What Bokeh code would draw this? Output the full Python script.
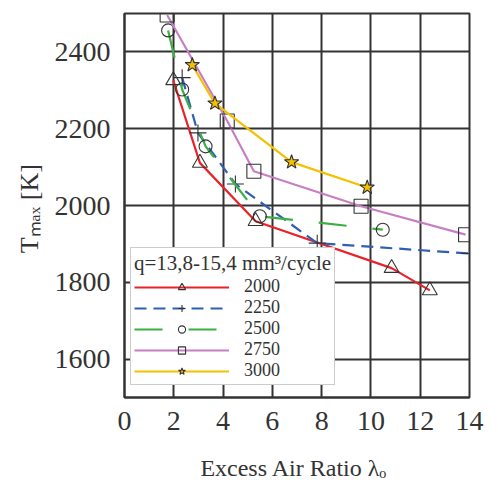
from bokeh.plotting import figure
from bokeh.models import Range1d, FixedTicker, Legend, LegendItem
from bokeh.embed import file_html
from bokeh.resources import INLINE

# ---- data ----
series_names = ["2000", "2250", "2500", "2750", "3000"]
lam_2000 = [1.98, 3.06, 5.32, 10.84, 12.39]
T_2000 = [2326, 2111, 1959, 1837, 1779]
lam_2250 = [2.34, 2.98, 4.50, 7.82, 14.0]
T_2250 = [2333, 2189, 2056, 1902, 1875]
lam_2500 = [1.77, 2.34, 3.29, 5.49, 10.48]
T_2500 = [2456, 2302, 2154, 1972, 1937]
lam_2750 = [1.73, 4.17, 5.25, 9.60, 13.84]
T_2750 = [2496, 2220, 2089, 1998, 1924]
lam_3000 = [2.75, 3.67, 6.78, 9.85]
T_3000 = [2366, 2266, 2113, 2047]
x_ticks = [0, 2, 4, 6, 8, 10, 12, 14]
y_ticks = [1600, 1800, 2000, 2200, 2400]
legend_title = "q=13,8-15,4 mm\u00b3/cycle"
x_title = "Excess Air Ratio  \u03bb\u2092"
y_title = "T\u2098\u2090\u2093  [K]"

FONT = "Liberation Serif"
GRID = "#333333"

p = figure(width=498, height=487, output_backend="svg", toolbar_location=None,
           x_range=Range1d(0, 14), y_range=Range1d(1500, 2500),
           min_border_left=124, min_border_right=29, min_border_top=13, min_border_bottom=90)
p.background_fill_color = "white"
p.border_fill_color = "white"
p.outline_line_color = GRID
p.outline_line_width = 2
p.outline_line_alpha = 1

for ax in (p.xaxis[0], p.yaxis[0]):
    ax.major_label_text_font = FONT
    ax.major_label_text_font_size = "28px"
    ax.major_label_text_color = "#333333"
    ax.major_tick_in = 0
    ax.major_tick_out = 0
    ax.minor_tick_in = 0
    ax.minor_tick_out = 0
    ax.axis_line_color = GRID
    ax.axis_line_width = 2
    ax.axis_label_text_font = FONT
    ax.axis_label_text_font_style = "normal"
    ax.axis_label_text_color = "#333333"
p.xaxis[0].ticker = FixedTicker(ticks=x_ticks)
p.yaxis[0].ticker = FixedTicker(ticks=y_ticks)
p.xaxis[0].major_label_standoff = 14
p.yaxis[0].major_label_standoff = 14
p.xaxis[0].axis_label = x_title
p.yaxis[0].axis_label = y_title
p.xaxis[0].axis_label_text_font_size = "24px"
p.yaxis[0].axis_label_text_font_size = "26px"
p.xaxis[0].axis_label_standoff = 22
p.yaxis[0].axis_label_standoff = 8

p.xgrid[0].ticker = FixedTicker(ticks=x_ticks)
p.ygrid[0].ticker = FixedTicker(ticks=y_ticks)
for g in (p.xgrid[0], p.ygrid[0]):
    g.grid_line_color = GRID
    g.grid_line_width = 2
    g.grid_line_alpha = 1

styles = [
    (lam_2000, T_2000, "#e8232a", "solid", "triangle", 15, None),
    (lam_2250, T_2250, "#2f5fb3", "12 7", "cross", 17, None),
    (lam_2500, T_2500, "#3cb043", "28 26", "circle", 13, None),
    (lam_2750, T_2750, "#c77fc4", "solid", "square", 14, None),
    (lam_3000, T_3000, "#f5c000", "solid", "star", 15, "#f5c000"),
]

items = []
for name, (xs, ys, col, dash, mk, sz, fill) in zip(series_names, styles):
    lr = p.line(xs, ys, line_color=col, line_width=2.2, line_dash=dash)
    if fill is None:
        sr = p.scatter(xs, ys, marker=mk, size=sz, line_color="#333333", line_width=1.1,
                       fill_alpha=0)
    else:
        sr = p.scatter(xs, ys, marker=mk, size=sz, line_color="#333333", line_width=1.1,
                       fill_color=fill, fill_alpha=1)
    items.append(LegendItem(label=name, renderers=[lr, sr]))

legend = Legend(items=items, location=(6, 12), orientation="vertical",
                title=legend_title, title_text_font=FONT, title_text_font_size="21px",
                title_text_font_style="normal", title_text_color="#333333", title_standoff=0,
                label_text_font=FONT, label_text_font_size="18px", label_text_color="#333333",
                glyph_width=95, glyph_height=18, label_height=18, spacing=-1,
                label_standoff=15, padding=3, margin=0,
                border_line_color="#999999", border_line_width=1,
                background_fill_color="white", background_fill_alpha=1)
p.add_layout(legend, "center")

open("out.html", "w").write(file_html(p, INLINE))
